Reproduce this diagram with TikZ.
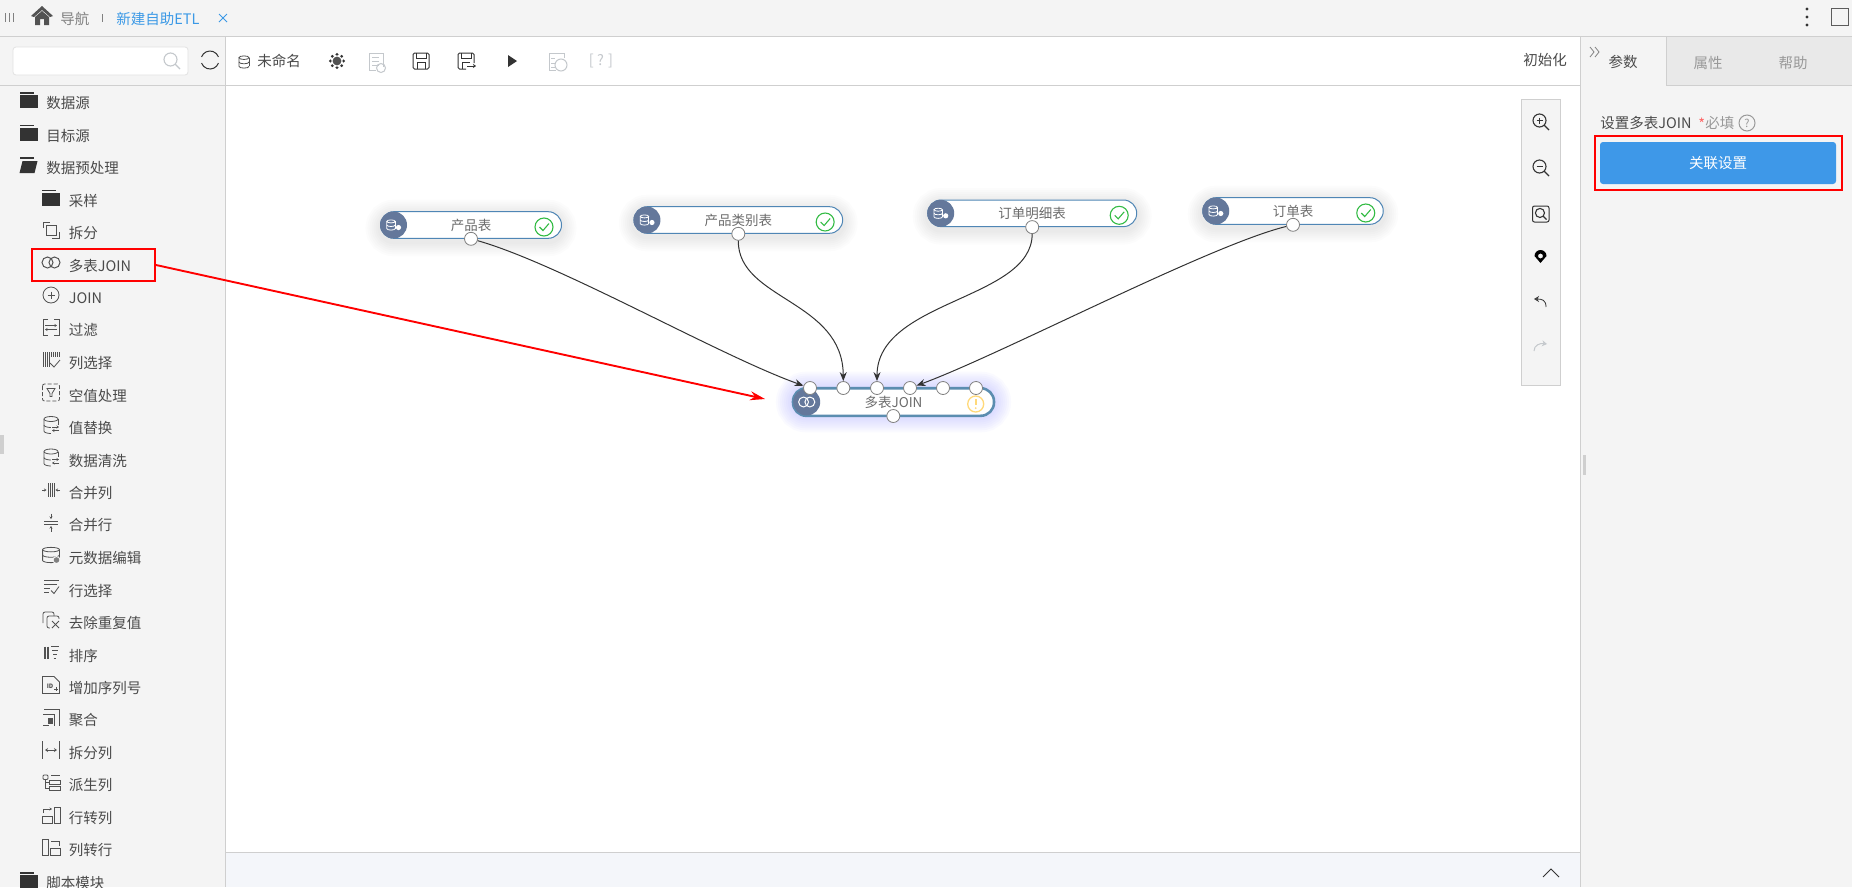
\documentclass[tikz,border=0pt]{standalone}
\usepackage{fontspec}
\setmainfont{Noto Sans CJK SC}
\usepackage{tikz}
\usetikzlibrary{arrows.meta,calc,positioning}
\definecolor{panelgray}{HTML}{F4F4F4}
\definecolor{tabgray}{HTML}{E9E9E9}
\definecolor{linegray}{HTML}{CFCFCF}
\definecolor{textgray}{HTML}{4A4A4A}
\definecolor{softgray}{HTML}{C4C8CC}
\definecolor{linkblue}{HTML}{3B99E6}
\definecolor{btnblue}{HTML}{3E98E8}
\definecolor{pillblue}{HTML}{4F86B5}
\definecolor{joinblue}{HTML}{5B8DB0}
\definecolor{ballblue}{HTML}{64789B}
\definecolor{okgreen}{HTML}{33BB44}
\definecolor{warnyellow}{HTML}{FFD97A}
\definecolor{glowblue}{HTML}{B9B9FF}
\definecolor{barblue}{HTML}{F4F6FA}
\definecolor{iconblack}{HTML}{333333}
\tikzset{
  folderclosed/.pic={
    \fill[iconblack] (-9,-8) rectangle (5,-6.5);
    \fill[iconblack] (-9,-5) rectangle (9,8);
  },
  folderopen/.pic={
    \fill[iconblack] (-9,-8) rectangle (5,-6.5);
    \fill[iconblack] (-6,-4) -- (9,-4) -- (6,8) -- (-9,8) -- cycle;
  },
  splitsq/.pic={
    \draw (-8,-2) -- (-8,-8) -- (-1,-8);
    \draw (-5,-5) rectangle (5,5);
    \draw (1,8) -- (8,8) -- (8,2);
  },
  joinrings/.pic={
    \draw[line width=1] (-3.5,0) circle (5.5);
    \draw[line width=1] (3.5,0) circle (5.5);
  },
  joinplus/.pic={
    \draw (0,0) circle (8);
    \draw (-3.5,0) -- (3.5,0);
    \draw (0,-3.5) -- (0,3.5);
  },
  filterbox/.pic={
    \draw (-3,-8) -- (-8,-8) -- (-8,8) -- (-3,8);
    \draw (3,-8) -- (8,-8) -- (8,8) -- (3,8);
    \draw[-{Stealth[length=2.5,width=3]}] (-6,-2) -- (6,-2);
    \draw[-{Stealth[length=2.5,width=3]}] (6,2) -- (-6,2);
  },
  colpick/.pic={
    \foreach \x in {-8,-6,-4,-2,0,2,4,6,8} {\draw[line width=.7] (\x,-8) -- (\x,{\x<0?7:-3});}
    \draw (-1,3) -- (3,7) -- (9,0);
  },
  nullbox/.pic={
    \draw[dashed,rounded corners=2,dash pattern=on 4 off 2] (-8.5,-8.5) rectangle (8.5,8.5);
    \draw (-4,-4) -- (4,-4) -- (1,1) -- (1,4) -- (-1,4) -- (-1,1) -- cycle;
  },
  dbshape/.pic={
    \draw (0,-6) ellipse (7 and 2.5);
    \draw (-7,-6) -- (-7,6) arc (180:0:7 and 2.5);
    \draw (7,6) -- (7,-6);
    \draw (-7,0) arc (180:0:7 and 2.5);
  },
  dbswap/.pic={
    \pic {dbshape};
    \fill[panelgray] (0,-0.5) rectangle (9,9);
    \draw[-{Stealth[length=2.5,width=3]}] (1,2) -- (8,2);
    \draw[-{Stealth[length=2.5,width=3]}] (8,5.5) -- (1,5.5);
  },
  dbedit/.pic={
    \pic[xscale=1.2,yscale=.9] {dbshape};
    \fill[panelgray] (5.5,5) circle (4);
    \fill[gray] (5.5,5) circle (2.8);
  },
  mergecol/.pic={
    \foreach \x in {-3,-1,1,3} {\draw[line width=.7] (\x,-7) -- (\x,7);}
    \draw[-{Stealth[length=2.5,width=3]}] (-9,0) -- (-4.5,0);
    \draw[-{Stealth[length=2.5,width=3]}] (9,0) -- (4.5,0);
  },
  mergerow/.pic={
    \draw[line width=.7] (-7,-1.5) -- (7,-1.5);
    \draw[line width=.7] (-7,1.5) -- (7,1.5);
    \draw[-{Stealth[length=2.5,width=3]}] (0,-9) -- (0,-3.5);
    \draw[-{Stealth[length=2.5,width=3]}] (0,9) -- (0,3.5);
  },
  rowpick/.pic={
    \draw[line width=.7] (-7,-7) -- (8,-7);
    \draw[line width=.7] (-7,-3) -- (6,-3);
    \draw[line width=.7] (-7,1) -- (-1,1);
    \draw[line width=.7] (-7,5) -- (-2,5);
    \draw (0,3) -- (3,6) -- (8,-1);
  },
  dedup/.pic={
    \draw[rounded corners=2] (-8,3) -- (-8,-8) -- (3,-8) -- (3,-4);
    \draw[rounded corners=2] (-4,-4) rectangle (8,8);
    \fill[panelgray] (-1,-1) rectangle (9,9);
    \draw (1,1) -- (8,8);
    \draw (8,1) -- (1,8);
  },
  sortbars/.pic={
    \draw[line width=1.1] (-6,-6) -- (-6,6);
    \draw[line width=1.1] (-3,-6) -- (-3,6);
    \draw (0,-6) -- (8,-6);
    \draw (1,-2) -- (7,-2);
    \draw (2,2) -- (6,2);
    \draw (2.5,6) -- (4.5,6);
  },
  idpage/.pic={
    \draw (-8.5,-8.5) -- (3,-8.5) -- (8.5,-3) -- (8.5,8.5) -- (-8.5,8.5) -- cycle;
    \node[inner sep=0pt,font=\fontsize{6}{6}\selectfont\bfseries] (idtag) at (-1,1) {ID};
    \draw (3,4) -- (7,4);
    \draw (5,2) -- (5,6);
  },
  groupbox/.pic={
    \draw (-7,-8) -- (8,-8) -- (8,8);
    \draw (-8,-3) -- (3,-3) -- (3,8);
    \draw (-8,8) -- (-2,8);
    \fill (-3,0) rectangle (2,6);
  },
  splitcol/.pic={
    \draw (-8.5,-9) -- (-8.5,9);
    \draw (8.5,-9) -- (8.5,9);
    \draw[{Stealth[length=3,width=4,open]}-{Stealth[length=3,width=4,open]}] (-6,0) -- (6,0);
  },
  derive/.pic={
    \draw[rounded corners=1] (-8,-7.5) rectangle (-3,-3);
    \draw (-5.5,-3) -- (-5.5,6);
    \draw (-5.5,0) -- (-2,0);
    \draw (-5.5,6) -- (-2,6);
    \draw (0,-7) -- (9,-7);
    \draw (-2,-2) rectangle (9,2);
    \draw (-2,4) rectangle (9,8);
  },
  rowtocol/.pic={
    \draw (3,-8) rectangle (9,8);
    \draw (-9,1) rectangle (1,8);
    \draw (-8,-2) -- (-8,-6) -- (0,-6);
    \draw[-{Stealth[length=2.5,width=3]}] (-3,-6) -- (1,-6);
  },
  coltorow/.pic={
    \draw (-9,-8) rectangle (-3,8);
    \draw (-1,1) rectangle (9,8);
    \draw (0,-6) -- (8,-6) -- (8,-2);
  },
  magnify/.pic={
    \draw[line width=1.1] (-1.5,-1.5) circle (6.5);
    \draw[line width=1.1] (3,3) -- (8,8);
  }
}
\newcommand{\rowicon}[2]{\pic at ($(item#1.west)+(-17.5,-3)$) {#2};}
\newcommand{\softring}[5]{
  \foreach \s in {#5} {
    \draw[#4,line width=\s pt,rounded corners=13.3pt]
      ({#1-#3/2},{#2-13.3}) rectangle ({#1+#3/2},{#2+13.3});
  }
}
\newcommand{\tablebox}[5]{
  \softring{#2}{#3+3}{#4}{black,opacity=.013}{30,26,22,18,14,10,6}
  \node[pillbox,minimum width=#4pt] (#1) at (#2,#3) {#5};
  \node[iconball] (#1ball) at ($(#1.west)+(13.5,0)$) {};
  \pic[white,line width=.8,scale=.6] at ($(#1ball)+(-2.5,0)$) {dbshape};
  \fill[white] ($(#1ball)+(5,2.5)$) circle (2.6pt);
  \node[okring] (#1ok) at ($(#1.east)+(-18,2)$) {};
  \draw[okgreen,line width=1.1] ($(#1ok)+(-4.5,0)$) -- ($(#1ok)+(-1,3.5)$) -- ($(#1ok)+(5,-3.5)$);
  \node[port] (#1port) at (#1.south) {};
}
\begin{document}
\begin{tikzpicture}[x=1pt,y=-1pt,line width=.8pt,
  uitext/.style={inner sep=0pt,text=textgray,font=\fontsize{14.5}{16}\selectfont},
  navitem/.style={uitext,anchor=west},
  pillbox/.style={draw=pillblue,fill=white,line width=1pt,rounded corners=13.3pt,minimum height=26.6pt,inner sep=0pt,text=gray!85!black,font=\fontsize{13.5}{15}\selectfont},
  iconball/.style={circle,fill=ballblue,minimum size=27pt,inner sep=0pt},
  okring/.style={circle,draw=okgreen,line width=1.1pt,fill=white,minimum size=18pt,inner sep=0pt},
  port/.style={circle,draw=gray,fill=white,line width=.8pt,minimum size=13pt,inner sep=0pt},
  link/.style={draw=iconblack,line width=1pt,-{Stealth[length=9pt,width=7pt]}},
  redmark/.style={draw=red,line width=2pt,inner sep=0pt}]
\useasboundingbox (0,0) rectangle (1852,887);
% panels
\fill[panelgray] (0,0) rectangle (1852,887);
\fill[white] (225,37) rectangle (1580,852);
\fill[barblue] (226,852) rectangle (1580,887);
\fill[tabgray] (1666,37) rectangle (1852,85);
\draw[linegray] (0,36.5) -- (1852,36.5);
\draw[linegray] (0,85.5) -- (1580,85.5);
\draw[linegray] (1666,85.5) -- (1852,85.5);
\draw[linegray] (225.5,37) -- (225.5,887);
\draw[linegray] (1580.5,37) -- (1580.5,887);
\draw[linegray] (1666,37) -- (1666,85.5);
\draw[linegray] (226,852.5) -- (1580,852.5);
\fill[linegray] (0,435) rectangle (4,454);
\fill[linegray] (1583,455) rectangle (1586,475);
\draw[iconblack,line width=1] (1543,877) -- (1551,869) -- (1559,877);
% top bar
\foreach \x in {5,9,13} {\draw[gray] (\x,13) -- (\x,22);}
\fill[iconblack!85] (42,6) -- (53,16) -- (50,17) -- (42,10) -- (34,17) -- (31,16) -- cycle;
\fill[iconblack!85] (35,17) -- (42,11) -- (49,17) -- (49,25) -- (44,25) -- (44,19) -- (40,19) -- (40,25) -- (35,25) -- cycle;
\node[uitext,anchor=west,text=gray] (navtab) at (60,19) {导航};
\draw[gray] (102.5,14) -- (102.5,22);
\node[uitext,anchor=west,text=linkblue] (etltab) at (116,19) {新建自助ETL};
\draw[linkblue,line width=1] (219,14) -- (227,22);
\draw[linkblue,line width=1] (227,14) -- (219,22);
\foreach \y in {9,17,25} {\fill[iconblack] (1807,\y) circle (1.6pt);}
\draw[iconblack!80,line width=1] (1831,8) rectangle (1848,25);
% search
\node[draw=linegray!60,fill=white,rounded corners=3pt,minimum width=175pt,minimum height=28pt,inner sep=0pt] (searchbox) at (100.5,61) {};
\pic[softgray] at (172,61) {magnify};
\draw[iconblack,line width=1] (210,60) ++(20:9) arc (20:160:9);
\draw[iconblack,line width=1] (210,60) ++(200:9) arc (200:340:9);
% nav tree
\foreach \lbl [count=\i from 0] in {数据源,目标源,数据预处理} {
  \node[navitem] (item\i) at (46,{103+32.5*\i}) {\lbl};
}
\foreach \lbl [count=\i from 3] in {采样,拆分,多表JOIN,JOIN,过滤,列选择,空值处理,值替换,数据清洗,合并列,合并行,元数据编辑,行选择,去除重复值,排序,增加序列号,聚合,拆分列,派生列,行转列,列转行} {
  \node[navitem] (item\i) at (68.5,{103+32.5*\i}) {\lbl};
}
\node[navitem] (item24) at (46,883) {脚本模块};
\rowicon{0}{folderclosed}
\rowicon{1}{folderclosed}
\rowicon{2}{folderopen}
\rowicon{3}{folderclosed}
\rowicon{24}{folderclosed}
\begin{scope}[iconblack!85]
\rowicon{4}{splitsq}
\rowicon{5}{joinrings}
\rowicon{6}{joinplus}
\rowicon{7}{filterbox}
\rowicon{8}{colpick}
\rowicon{9}{nullbox}
\rowicon{10}{dbswap}
\rowicon{11}{dbswap}
\rowicon{12}{mergecol}
\rowicon{13}{mergerow}
\rowicon{14}{dbedit}
\rowicon{15}{rowpick}
\rowicon{16}{dedup}
\rowicon{17}{sortbars}
\rowicon{18}{idpage}
\rowicon{19}{groupbox}
\rowicon{20}{splitcol}
\rowicon{21}{derive}
\rowicon{22}{rowtocol}
\rowicon{23}{coltorow}
\end{scope}
% toolbar
\pic[iconblack!85,scale=.72] at (244,62) {dbshape};
\node[uitext,anchor=west] (etlname) at (257,61) {未命名};
\foreach \a in {0,45,...,315} {\fill[iconblack] (337,61) ++(\a:6.5) circle (1.6);}
\fill[white] (337,61) circle (5.6);
\fill[iconblack!85] (337,61) circle (4.4);
\draw[softgray,line width=1] (383,67) -- (383,53) -- (369,53) -- (369,70) -- (376,70);
\foreach \y in {57,61,65} {\draw[softgray] (372,\y) -- (379,\y);}
\draw[softgray,line width=1] (381,68) circle (4.5);
\draw[iconblack,line width=1,rounded corners=1.5] (413,53) rectangle (429,69);
\draw[iconblack,line width=1] (416,53) -- (416,58) -- (426,58) -- (426,53);
\draw[iconblack,line width=1] (417,69) -- (417,62) -- (425,62) -- (425,69);
\draw[iconblack,line width=1,rounded corners=1.5] (474,63) -- (474,53) -- (458,53) -- (458,69) -- (466,69);
\draw[iconblack,line width=1] (461,53) -- (461,58) -- (471,58) -- (471,53);
\draw[iconblack,line width=1] (462,69) -- (462,62) -- (470,62);
\draw[iconblack,line width=1,-{Stealth[length=3,width=4]}] (467,66) -- (476,66);
\fill[iconblack] (508,55) -- (517,61) -- (508,67) -- cycle;
\draw[softgray,line width=1] (564,58) -- (564,53) -- (549,53) -- (549,70) -- (556,70);
\foreach \y in {58,63,67} {\draw[softgray] (551,\y) -- (555,\y);}
\draw[softgray,line width=1] (561,65) circle (6);
\node[uitext,text=softgray] (helpmark) at (601,61) {[ ? ]};
\node[uitext] (resetbtn) at (1545,60) {初始化};
% tables
\tablebox{prod}{471}{225}{181}{产品表}
\tablebox{cat}{738.3}{220}{208.7}{产品类别表}
\tablebox{detail}{1032.2}{213.3}{209}{订单明细表}
\tablebox{order}{1293}{211}{180.5}{订单表}
% join node
\softring{893.5}{402}{201}{glowblue,opacity=.07}{34,30,26,22,18,14,10,6}
\node[pillbox,draw=joinblue,line width=2.6pt,minimum width=201pt,minimum height=27.6pt] (join) at (893.5,402) {多表JOIN};
\node[iconball] (joinball) at (806.7,402) {};
\pic[white,line width=1.1,scale=.9] at (joinball) {joinrings};
\node[circle,draw=warnyellow,line width=1.3pt,fill=white,minimum size=16pt,inner sep=0pt] (joinwarn) at (975.7,404) {};
\draw[warnyellow,line width=1.6] (975.7,399) -- (975.7,405);
\fill[warnyellow] (975.7,408.2) circle (1pt);
\foreach \x [count=\i] in {810,843.3,877,910,943,976} {
  \node[port] (join\i) at (\x,388) {};
}
\node[port] (joinport) at (893.3,416) {};
% links
\draw[link] (prodport) .. controls (560,264) and (720,356) .. (join1);
\draw[link] (catport) .. controls (738,300) and (843,300) .. (join2);
\draw[link] (detailport) .. controls (1032,300) and (877,300) .. (join3);
\draw[link] (orderport) .. controls (1210,245) and (1000,355) .. (join4);
% right panel
\node[uitext] (tabparam) at (1623,62) {参数};
\node[uitext,text=gray!80] (tabattr) at (1708,63) {属性};
\node[uitext,text=gray!80] (tabhelp) at (1793,63) {帮助};
\draw[gray] (1590,47) -- (1594,52) -- (1590,57);
\draw[gray] (1595,47) -- (1599,52) -- (1595,57);
\node[uitext,anchor=west] (paramname) at (1600,123) {设置多表JOIN};
\node[uitext,anchor=west,text=red!60] (paramstar) at (1698,124) {*};
\node[uitext,anchor=west,text=gray!80] (parammust) at (1705,123) {必填};
\node[circle,draw=gray!80,line width=1pt,minimum size=16pt,inner sep=0pt,text=gray!80,font=\fontsize{11}{11}\selectfont] (paramhelp) at (1747,123) {?};
\node[fill=btnblue,rounded corners=3pt,minimum width=236pt,minimum height=42pt,inner sep=0pt,text=white,font=\fontsize{14.5}{16}\selectfont] (relbtn) at (1718,163) {关联设置};
\node[redmark,minimum width=247pt,minimum height=54pt] (btnmark) at (1718,163) {};
% zoom tools
\draw[draw=linegray,fill=panelgray] (1521.7,99.5) rectangle (1560.7,385);
\pic[iconblack] at (1541,122) {magnify};
\draw[iconblack] (1536.5,120.5) -- (1542.5,120.5);
\draw[iconblack] (1539.5,117.5) -- (1539.5,123.5);
\pic[iconblack] at (1541,168) {magnify};
\draw[iconblack] (1536.5,166.5) -- (1542.5,166.5);
\draw[iconblack,line width=1,rounded corners=2] (1532.5,206) rectangle (1549,222);
\pic[iconblack,scale=.7] at (1541,214) {magnify};
\fill[black,even odd rule] (1534.5,256) arc (180:360:6) -- (1540.5,263) -- cycle (1540.5,256) circle (2.5);
\draw[iconblack,-{Stealth[length=5,width=6,open]}] (1546,307) .. controls (1546,300) and (1542,299) .. (1534,299);
\draw[softgray,line width=1,-{Stealth[length=5,width=6,open]}] (1534,351) .. controls (1534,345) and (1540,343) .. (1547,344);
% red marks
\node[redmark,minimum width=123pt,minimum height=32pt] (navmark) at (93.5,265) {};
\coordinate (droptip) at (765,399);
\draw[red,line width=1.9,-{Stealth[length=15pt,width=9pt]}] (navmark.east) -- (droptip);
\end{tikzpicture}
\end{document}
